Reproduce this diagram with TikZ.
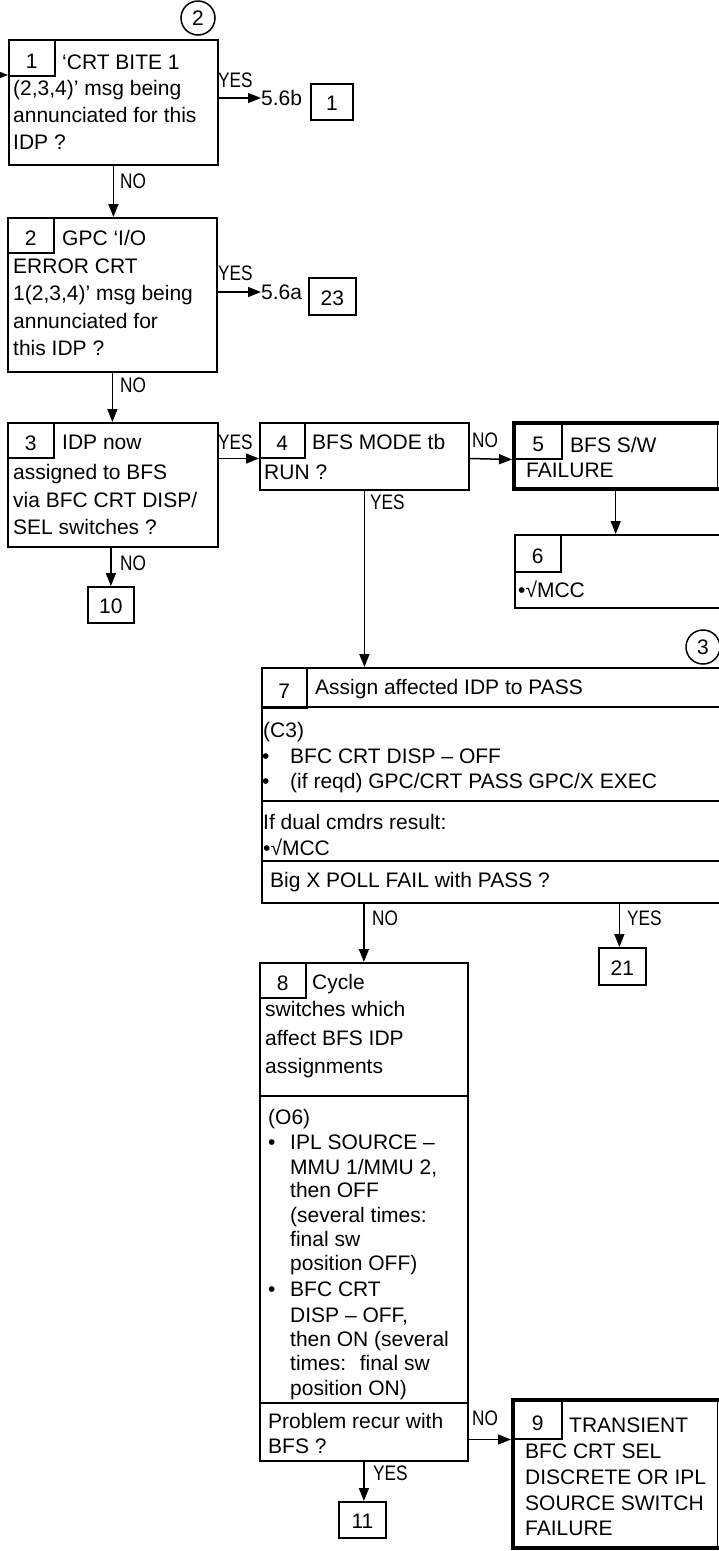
\documentclass[tikz,border=0pt]{standalone}
\usepackage{fontspec}
\setmainfont{Liberation Sans}
\newfontfamily\narrowfont[FakeStretch=0.82]{Liberation Sans}
\usetikzlibrary{arrows.meta}
\begin{document}
\begin{tikzpicture}[x=1pt,y=-1pt,
  box/.style={draw, line width=1.8pt, inner sep=0pt, anchor=north west},
  numbox/.style={box, font=\fontsize{21}{25}\selectfont, text height=18pt, text depth=0pt},
  heavybox/.style={draw=none, inner sep=0pt, anchor=north west},
  heavyline/.style={line width=4pt, line cap=rect},
  cell/.style={draw, line width=1.5pt, inner sep=0pt, anchor=north west, font=\fontsize{21}{25}\selectfont, text height=21pt, text depth=0pt},
  txt/.style={anchor=base west, inner sep=0pt, font=\fontsize{21}{25}\selectfont},
  lbl/.style={anchor=base west, inner sep=0pt, font=\narrowfont\fontsize{21}{25}\selectfont},
  conn/.style={line width=1.5pt, -{Triangle[length=13pt,width=10pt]}},
  divl/.style={line width=1.8pt},
  refc/.style={draw, circle, line width=1.5pt, minimum size=34pt, inner sep=0pt, font=\fontsize{21}{25}\selectfont}
]
\useasboundingbox (0,0) rectangle (718,1551);

% ---------- Box 1
\node[box, minimum width=209pt, minimum height=125pt] (b1) at (8,39) {};
\node[cell, minimum width=46pt, minimum height=36pt] (c1) at (8,39) {1};
\node[txt] (t1a) at (62,69.5) {‘CRT BITE 1};
\node[txt] (t1b) at (13,95.5) {(2,3,4)’ msg being};
\node[txt] (t1c) at (13,122.5) {annunciated for this};
\node[txt] (t1d) at (13,149.5) {IDP ?};
\node[refc] (k2) at (198,18) {2};
\coordinate (in1) at (-6,75);

\node[txt, anchor=west] (l56b) at (261,98) {5.6b};
\node[numbox, minimum width=42pt, minimum height=36pt] (r1) at (310,83) {1};

% ---------- Box 2
\node[box, minimum width=209pt, minimum height=154pt] (b2) at (7,217) {};
\node[cell, minimum width=46pt, minimum height=35pt] (c2) at (7,217) {2};
\node[txt] (t2a) at (62,245.5) {GPC ‘I/O};
\node[txt] (t2b) at (13,273.5) {ERROR CRT};
\node[txt] (t2c) at (13,300.5) {1(2,3,4)’ msg being};
\node[txt] (t2d) at (13,328.5) {annunciated for};
\node[txt] (t2e) at (13,355.5) {this IDP ?};

\node[txt, anchor=west] (l56a) at (261,292) {5.6a};
\node[numbox, minimum width=47pt, minimum height=37pt] (r23) at (308,277) {23};

% ---------- Box 3
\node[box, minimum width=210pt, minimum height=124pt] (b3) at (7,422) {};
\node[cell, minimum width=46pt, minimum height=35pt] (c3) at (7,422) {3};
\node[txt] (t3a) at (62,449.5) {IDP now};
\node[txt] (t3b) at (13,479.5) {assigned to BFS};
\node[txt] (t3c) at (13,507.5) {via BFC CRT DISP/};
\node[txt] (t3d) at (13,534.5) {SEL switches ?};

% ---------- Box 4
\node[box, minimum width=209pt, minimum height=67pt] (b4) at (259,422) {};
\node[cell, minimum width=45pt, minimum height=35pt] (c4) at (259,422) {4};
\node[txt] (t4a) at (312,449.5) {BFS MODE tb};
\node[txt] (t4b) at (264,479.5) {RUN ?};

% ---------- Box 5 (heavy)
\node[heavybox, minimum width=203pt, minimum height=66pt] (b5) at (514,423) {};
\draw[heavyline] (b5.north east) -- (b5.north west) -- (b5.south west) -- (b5.south east);
\draw[line width=1.2pt] (b5.north east) -- (b5.south east);
\node[cell, minimum width=47pt, minimum height=35pt] (c5) at (514,423) {5};
\node[txt] (t5a) at (570,452.5) {BFS S/W};
\node[txt] (t5b) at (526,477.5) {FAILURE};

% ---------- Box 6
\node[box, minimum width=211pt, minimum height=73pt] (b6) at (514,534) {};
\node[cell, minimum width=46pt, minimum height=37pt] (c6) at (514,534) {6};
\node[txt] (t6a) at (518,597.5) {•√MCC};

% ---------- Box 10
\node[numbox, minimum width=46pt, minimum height=36pt] (b10) at (87,586) {10};

% ---------- Box 7
\node[refc] (k3) at (703,647) {3};
\node[box, minimum width=464pt, minimum height=235pt] (b7) at (261,667) {};
\node[cell, minimum width=45pt, minimum height=40pt] (c7) at (261,667) {7};
\draw[divl] (261,707) -- (725,707);
\draw[divl] (261,801) -- (725,801);
\draw[divl] (261,861) -- (725,861);
\node[txt] (t7a) at (315,694.5) {Assign affected IDP to PASS};
\node[txt] (t7b) at (263,737.5) {(C3)};
\node[txt] (t7c1) at (262,763.5) {•};
\node[txt] (t7c) at (290,763.5) {BFC CRT DISP – OFF};
\node[txt] (t7d1) at (262,788.5) {•};
\node[txt] (t7d) at (290,788.5) {(if reqd) GPC/CRT PASS GPC/X EXEC};
\node[txt] (t7e) at (263,829.5) {If dual cmdrs result:};
\node[txt] (t7f) at (263,855.5) {•√MCC};
\node[txt] (t7g) at (270,887.5) {Big X POLL FAIL with PASS ?};

% ---------- Box 21
\node[numbox, minimum width=47pt, minimum height=37pt] (b21) at (598,947) {21};

% ---------- Box 8
\node[box, minimum width=208pt, minimum height=498pt] (b8) at (259,962) {};
\node[cell, minimum width=46pt, minimum height=35pt] (c8) at (259,962) {8};
\draw[divl] (259,1096) -- (467,1096);
\draw[divl] (259,1403) -- (467,1403);
\node[txt] (t8a) at (312,989.5) {Cycle};
\node[txt] (t8b) at (265,1016.5) {switches which};
\node[txt] (t8c) at (265,1045.5) {affect BFS IDP};
\node[txt] (t8d) at (265,1073.5) {assignments};
\node[txt] (t8e) at (268,1124.5) {(O6)};
\node[txt] (t8f1) at (268,1149.5) {•};
\node[txt] (t8f) at (290,1149.5) {IPL SOURCE –};
\node[txt] (t8g) at (290,1174.5) {MMU 1/MMU 2,};
\node[txt] (t8h) at (290,1197.5) {then OFF};
\node[txt] (t8i) at (290,1222.5) {(several times:};
\node[txt] (t8j) at (290,1246.5) {final sw};
\node[txt] (t8k) at (290,1270.5) {position OFF)};
\node[txt] (t8l1) at (268,1296.5) {•};
\node[txt] (t8l) at (290,1296.5) {BFC CRT};
\node[txt] (t8m) at (290,1322.5) {DISP – OFF,};
\node[txt] (t8n) at (290,1346.5) {then ON (several};
\node[txt] (t8o) at (290,1370.5) {times:~ final sw};
\node[txt] (t8p) at (290,1395.5) {position ON)};
\node[txt] (t8q) at (268,1428.5) {Problem recur with};
\node[txt] (t8r) at (268,1453.5) {BFS ?};

% ---------- Box 9 (heavy)
\node[heavybox, minimum width=204pt, minimum height=148pt] (b9) at (513,1400) {};
\draw[heavyline] (b9.north east) -- (b9.north west) -- (b9.south west) -- (b9.south east);
\draw[line width=1.2pt] (b9.north east) -- (b9.south east);
\node[cell, minimum width=48pt, minimum height=38pt] (c9) at (513,1400) {9};
\node[txt] (t9a) at (569,1432.5) {TRANSIENT};
\node[txt] (t9b) at (525,1458.5) {BFC CRT SEL};
\node[txt] (t9c) at (525,1484.5) {DISCRETE OR IPL};
\node[txt] (t9d) at (525,1510.5) {SOURCE SWITCH};
\node[txt] (t9e) at (525,1535.5) {FAILURE};

% ---------- Box 11
\node[numbox, minimum width=47pt, minimum height=36pt] (b11) at (338,1501) {11};

% ---------- Connectors
\draw[conn] (in1) -- (in1 -| b1.west);
\draw[conn] (b1.east |- l56b.west) -- (l56b.west);
\draw[conn] (b1.south) -- (b1.south |- b2.north);
\draw[conn] (b2.east |- l56a.west) -- (l56a.west);
\draw[conn] (b2.south) -- (b2.south |- b3.north);
\draw[conn] (c3.south -| b3.east) -- (c4.south west);
\draw[conn] (c4.south -| b4.east) -- ([xshift=-2pt]c5.south west);
\draw[conn] (b5.south) -- (b5.south |- b6.north);
\draw[conn] (b10.north |- b3.south) -- (b10.north);
\draw[conn] (b4.south) -- (b4.south |- b7.north);
\draw[conn] (b8.north |- b7.south) -- (b8.north);
\draw[conn] ([xshift=-3pt]b21.north |- b7.south) -- ([xshift=-3pt]b21.north);
\draw[conn] (c9.south west -| b8.east) -- ([xshift=-2pt]c9.south west);
\draw[conn] (b8.south) -- (b8.south |- b11.north);

% ---------- Connector labels
\node[lbl] (y1) at (218,87.5) {YES};
\node[lbl] (y2) at (218,280.5) {YES};
\node[lbl] (y3) at (218,449.5) {YES};
\node[lbl] (y4) at (370,509.5) {YES};
\node[lbl] (y7) at (627,925.5) {YES};
\node[lbl] (y8) at (373,1480.5) {YES};
\node[lbl] (n1) at (120,188.5) {NO};
\node[lbl] (n2) at (120,392.5) {NO};
\node[lbl] (n3) at (120,570.5) {NO};
\node[lbl] (n4) at (472,447.5) {NO};
\node[lbl] (n7) at (372,925.5) {NO};
\node[lbl] (n8) at (472,1425.5) {NO};
\end{tikzpicture}
\end{document}
